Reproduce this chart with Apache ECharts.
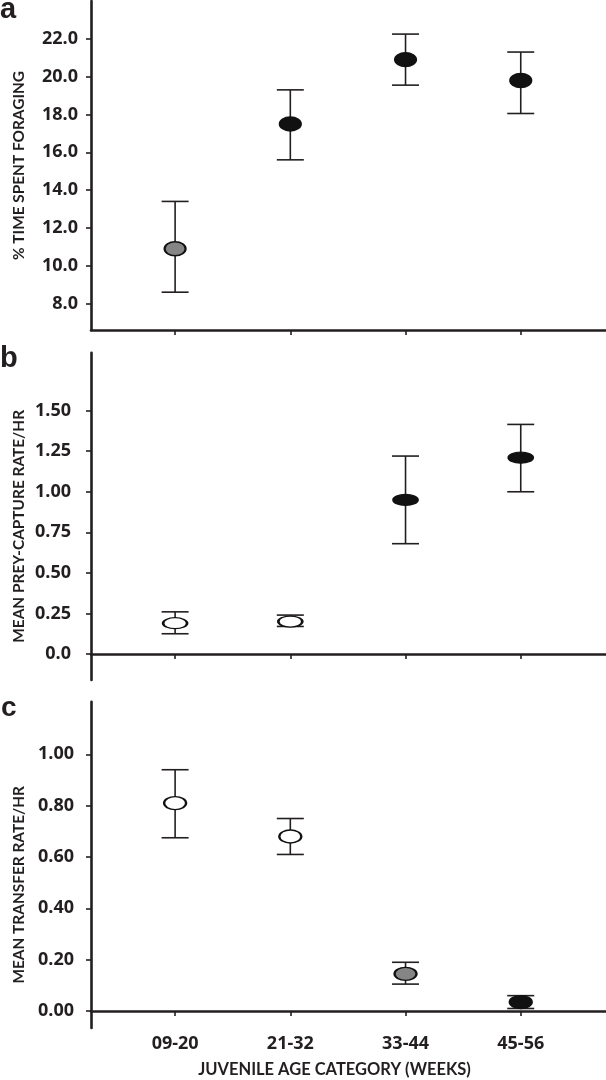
<!DOCTYPE html>
<html>
<head>
<meta charset="utf-8">
<script src="https://cdn.jsdelivr.net/npm/echarts@6/dist/echarts.min.js"></script>
<style>
html,body{margin:0;padding:0;background:#fff;}
#chart{width:606px;height:1080px;}
</style>
</head>
<body>
<div id="chart"></div>
<script>
// ---------- data ----------
var categories = ['09-20', '21-32', '33-44', '45-56'];

var foragingMean = [10.9, 17.5, 20.9, 19.8];
var foragingLow  = [8.6, 15.6, 19.55, 18.05];
var foragingHigh = [13.4, 19.3, 22.25, 21.3];
var foragingFill = ['gray', 'black', 'black', 'black'];
var foragingTicks = [8, 10, 12, 14, 16, 18, 20, 22];

var captureMean = [0.19, 0.20, 0.95, 1.21];
var captureLow  = [0.125, 0.17, 0.68, 1.0];
var captureHigh = [0.26, 0.24, 1.22, 1.415];
var captureFill = ['white', 'white', 'black', 'black'];
var captureTicks = [0, 0.25, 0.5, 0.75, 1.0, 1.25, 1.5];

var transferMean = [0.81, 0.68, 0.145, 0.035];
var transferLow  = [0.675, 0.61, 0.105, 0.01];
var transferHigh = [0.94, 0.75, 0.19, 0.06];
var transferFill = ['white', 'white', 'gray', 'black'];
var transferTicks = [0, 0.2, 0.4, 0.6, 0.8, 1.0];

var xTickValues = [1, 2, 3, 4];

// ---------- styling ----------
var INK = '#231f20';
var FILLS = { white: '#ffffff', gray: '#858585', black: '#111111' };
var LABEL_FONT = '"Open Sans", "Noto Sans", sans-serif';
var NAME_FONT = 'Lato, "Open Sans", sans-serif';

var chart = echarts.init(document.getElementById('chart'), null, { renderer: 'canvas' });

function pts(means) { return means.map(function (v, i) { return [i + 1, v]; }); }
function bars(lo, hi) { return lo.map(function (v, i) { return [i + 1, v, hi[i]]; }); }

function errRender(params, api) {
  var x = api.value(0);
  var lo = api.coord([x, api.value(1)]);
  var hi = api.coord([x, api.value(2)]);
  var hw = 13.5;
  var st = { stroke: INK, lineWidth: 1.6 };
  return {
    type: 'group',
    children: [
      { type: 'line', shape: { x1: lo[0], y1: lo[1], x2: hi[0], y2: hi[1] }, style: st },
      { type: 'line', shape: { x1: lo[0] - hw, y1: lo[1], x2: lo[0] + hw, y2: lo[1] }, style: st },
      { type: 'line', shape: { x1: hi[0] - hw, y1: hi[1], x2: hi[0] + hw, y2: hi[1] }, style: st }
    ]
  };
}

function xAxisCfg(idx, showLabels) {
  return {
    type: 'value', gridIndex: idx, min: 0.27, max: 4.74,
    axisLine: { show: true, lineStyle: { color: INK, width: 2.6 } },
    axisTick: { show: true, customValues: xTickValues, length: 5, inside: false, lineStyle: { color: INK, width: 1.6 } },
    axisLabel: {
      show: showLabels, customValues: xTickValues, margin: 7,
      formatter: function (v) { return categories[Math.round(v) - 1] || ''; },
      color: INK, fontFamily: LABEL_FONT, fontWeight: 'bold', fontSize: 18
    },
    splitLine: { show: false },
    name: showLabels ? 'JUVENILE AGE CATEGORY (WEEKS)' : '',
    nameLocation: 'middle', nameGap: 33,
    nameTextStyle: { color: INK, fontFamily: NAME_FONT, fontWeight: 'bold', fontSize: 16.5, padding: [0, 28, 0, 0] }
  };
}

function yAxisCfg(idx, min, max, ticks, fmt, name, margin, shift) {
  return {
    type: 'value', gridIndex: idx, min: min, max: max,
    axisLine: { show: true, lineStyle: { color: INK, width: 2.6 } },
    axisTick: { show: true, customValues: ticks, length: 5, lineStyle: { color: INK, width: 1.6 } },
    axisLabel: {
      customValues: ticks, margin: margin, formatter: fmt,
      color: INK, fontFamily: LABEL_FONT, fontWeight: 'bold', fontSize: 18
    },
    splitLine: { show: false },
    name: name, nameLocation: 'middle', nameGap: 64,
    nameMoveOverlap: false,
    nameTextStyle: { color: INK, fontFamily: NAME_FONT, fontWeight: 'bold', fontSize: 15.4, padding: [0, shift, 0, 0] }
  };
}

function scatterCfg(idx, means, fills, size) {
  return {
    type: 'scatter', xAxisIndex: idx, yAxisIndex: idx, z: 5,
    symbol: 'circle', symbolSize: size,
    data: pts(means),
    itemStyle: {
      color: function (p) { return FILLS[fills[p.dataIndex]]; },
      borderColor: '#111111', borderWidth: 1.8, opacity: 1
    },
    emphasis: { disabled: true }
  };
}

function errCfg(idx, lo, hi) {
  return {
    type: 'custom', xAxisIndex: idx, yAxisIndex: idx, z: 2,
    renderItem: errRender, data: bars(lo, hi),
    encode: { x: 0, y: [1, 2] }, silent: true
  };
}

var option = {
  animation: false,
  backgroundColor: '#ffffff',
  grid: [
    { left: 91, right: 0, top: 1, height: 329 },
    { left: 91, right: 0, top: 352.7, height: 327.3 },
    { left: 91, right: 0, top: 701.7, height: 326.3 }
  ],
  xAxis: [xAxisCfg(0, false), xAxisCfg(1, false), xAxisCfg(2, true)],
  yAxis: [
    yAxisCfg(0, 6.6, 24, foragingTicks, function (v) { return v.toFixed(1); }, '% TIME SPENT FORAGING', 13, 0),
    yAxisCfg(1, -0.16, 1.857, captureTicks, function (v) { return v === 0 ? '0.0' : v.toFixed(2); }, 'MEAN PREY-CAPTURE RATE/HR', 20, 20),
    yAxisCfg(2, -0.066, 1.205, transferTicks, function (v) { return v.toFixed(2); }, 'MEAN TRANSFER RATE/HR', 17, 40)
  ],
  series: [
    errCfg(0, foragingLow, foragingHigh),
    scatterCfg(0, foragingMean, foragingFill, [21, 14]),
    errCfg(1, captureLow, captureHigh),
    scatterCfg(1, captureMean, captureFill, [24, 11]),
    errCfg(2, transferLow, transferHigh),
    scatterCfg(2, transferMean, transferFill, [22, 13])
  ],
  graphic: [
    { type: 'text', left: 0, top: -5, style: { text: 'a', font: 'bold 29px "Liberation Sans", Arial, sans-serif', fill: INK } },
    { type: 'text', left: 0, top: 344, style: { text: 'b', font: 'bold 29px "Liberation Sans", Arial, sans-serif', fill: INK } },
    { type: 'text', left: 1, top: 694, style: { text: 'c', font: 'bold 28px "Liberation Sans", Arial, sans-serif', fill: INK } }
  ]
};

chart.setOption(option);
</script>
</body>
</html>
